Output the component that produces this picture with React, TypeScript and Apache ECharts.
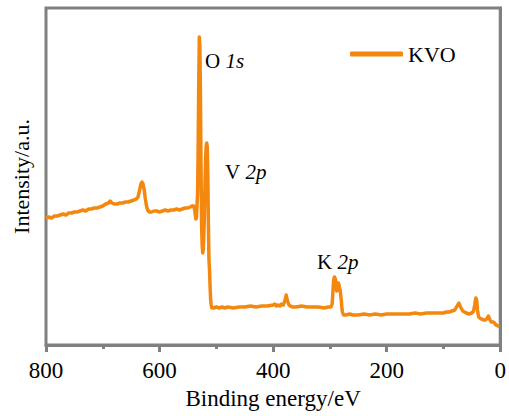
import React, { useEffect, useRef } from "react";
import * as echarts from "echarts";

// XPS survey spectrum of KVO: binding energy (eV) and intensity (a.u.)
const bindingEnergy: number[] = [
  800, 795, 790, 785, 780, 775, 770, 765, 760, 755, 750, 745, 740, 735, 730, 725, 720, 715, 710, 705,
  700, 695, 690, 687, 684, 680, 675, 670, 665, 660, 655, 650, 645, 641, 638, 635, 633, 631, 629, 627,
  625, 623, 621, 618, 614, 610, 605, 600, 595, 590, 585, 580, 575, 570, 565, 560, 555, 550, 546, 543,
  540, 538, 537, 536, 535, 534, 533, 532, 531, 530, 529, 528, 527, 526, 525, 524, 523, 522, 521, 520,
  519, 518, 517, 516, 515, 514, 513, 512, 511, 510, 509, 508, 505, 500, 495, 490, 485, 480, 470, 460,
  450, 440, 430, 420, 410, 400, 397, 394, 391, 388, 385, 382, 380, 378, 377, 376, 374, 372, 370, 365,
  360, 350, 340, 330, 320, 310, 303, 298, 296, 295, 294, 293, 292, 291, 290, 289, 288, 287, 286, 285,
  284, 283, 282, 281, 280, 279, 278, 276, 272, 265, 260, 250, 240, 230, 220, 210, 200, 190, 180, 170,
  160, 150, 140, 130, 120, 110, 100, 95, 90, 85, 80, 78, 76, 74, 73, 72, 70, 68, 66, 63,
  60, 55, 50, 47, 45, 44, 43, 42, 41, 40, 39, 38, 36, 34, 32, 30, 28, 26, 24, 22,
  21, 20, 18, 16, 14, 12, 10, 8, 6, 4, 2, 1,
];

const intensity: number[] = [
  127, 128, 127, 129, 129, 130, 131, 130, 132, 132, 133, 133, 134, 135, 134, 136, 136, 137, 137, 138,
  139, 141, 142, 144, 142, 141, 141, 142, 142, 143, 143, 144, 145, 146, 148, 155, 161, 163, 161, 155,
  146, 139, 135, 133, 133, 134, 134, 133, 134, 135, 134, 135, 135, 136, 135, 136, 137, 137, 138, 139,
  139, 135, 130, 126, 128, 140, 152, 200, 260, 308, 300, 250, 180, 120, 100, 92, 95, 110, 130, 160,
  185, 198, 202, 198, 170, 120, 85, 75, 58, 45, 40, 37, 37, 38, 37, 38, 37, 38, 37, 38,
  38, 39, 38, 39, 39, 40, 41, 39, 40, 39, 41, 40, 43, 47, 50, 47, 43, 40, 39, 38,
  38, 39, 38, 38, 38, 37, 38, 38, 41, 50, 60, 66, 68, 67, 65, 58, 54, 56, 60, 62,
  60, 57, 55, 50, 45, 38, 33, 30, 30, 31, 30, 30, 31, 30, 31, 30, 31, 31, 31, 31,
  31, 32, 31, 32, 32, 32, 32, 33, 33, 34, 35, 37, 39, 41, 42, 41, 38, 36, 34, 33,
  32, 31, 32, 34, 40, 44, 47, 46, 42, 35, 31, 28, 27, 26, 26, 25, 25, 25, 26, 28,
  29, 28, 25, 23, 23, 23, 22, 20, 20, 19, 18, 18,
];

const seriesName = "KVO";
const xTicks = { min: 0, max: 800, interval: 200 };

// Peak assignments: element, orbital, label position
const peakLabels: string[] = ["O", "V", "K"];
const peakOrbitals: string[] = ["1s", "2p", "2p"];
const peakX: number[] = [205, 225, 317];
const peakY: number[] = [62, 173, 263];

const ORANGE = "#F4880F";
const FRAME = "#808080";
const FONT = "Liberation Serif";

export default function App() {
  const ref = useRef<HTMLDivElement>(null);

  useEffect(() => {
    if (!ref.current) return;
    const chart = echarts.init(ref.current, undefined, { renderer: "svg" });
    const data = bindingEnergy.map((e, i) => [e, intensity[i]]);

    chart.setOption({
      animation: false,
      backgroundColor: "#ffffff",
      textStyle: { fontFamily: FONT },
      grid: {
        left: 46,
        right: 8,
        top: 8,
        bottom: 71,
        show: true,
        borderColor: FRAME,
        borderWidth: 3,
      },
      legend: {
        data: [{ name: seriesName, icon: "roundRect" }],
        left: 345,
        top: 38,
        itemWidth: 53,
        itemHeight: 5,
        itemGap: 5,
        itemStyle: { color: ORANGE },
        textStyle: { fontFamily: FONT, fontSize: 22, color: "#000" },
      },
      xAxis: {
        type: "value",
        inverse: true,
        min: xTicks.min,
        max: xTicks.max,
        interval: xTicks.interval,
        name: "Binding energy/eV",
        nameLocation: "middle",
        nameGap: 36,
        nameTextStyle: { fontFamily: FONT, fontSize: 23, color: "#000" },
        axisLine: { show: true, lineStyle: { color: FRAME, width: 3 } },
        axisTick: { show: true, inside: false, length: 7, lineStyle: { color: FRAME, width: 3 } },
        minorTick: { show: true, splitNumber: 2, length: 4, lineStyle: { color: FRAME, width: 3 } },
        axisLabel: { fontFamily: FONT, fontSize: 23, color: "#000", margin: 14 },
        splitLine: { show: false },
      },
      yAxis: {
        type: "value",
        min: 0,
        max: 337,
        name: "Intensity/a.u.",
        nameLocation: "middle",
        nameGap: 14,
        nameTextStyle: { fontFamily: FONT, fontSize: 22, color: "#000" },
        axisLine: { show: true, lineStyle: { color: FRAME, width: 3 } },
        axisTick: { show: false },
        axisLabel: { show: false },
        splitLine: { show: false },
      },
      series: [
        {
          name: seriesName,
          type: "line",
          data,
          symbol: "none",
          smooth: false,
          lineStyle: { color: ORANGE, width: 3.5, join: "round" },
          itemStyle: { color: ORANGE },
        },
      ],
      graphic: peakLabels.map((el, i) => ({
        type: "text",
        left: peakX[i],
        top: peakY[i] - 12,
        style: {
          text: `{n|${el} }{i|${peakOrbitals[i]}}`,
          rich: {
            n: { fontFamily: FONT, fontSize: 21, fill: "#000" },
            i: { fontFamily: FONT, fontSize: 21, fontStyle: "italic", fill: "#000" },
          },
        },
      })),
    });

    return () => chart.dispose();
  }, []);

  return (
    <div
      ref={ref}
      style={{ position: "absolute", left: 0, top: 0, width: 509, height: 416 }}
    />
  );
}
